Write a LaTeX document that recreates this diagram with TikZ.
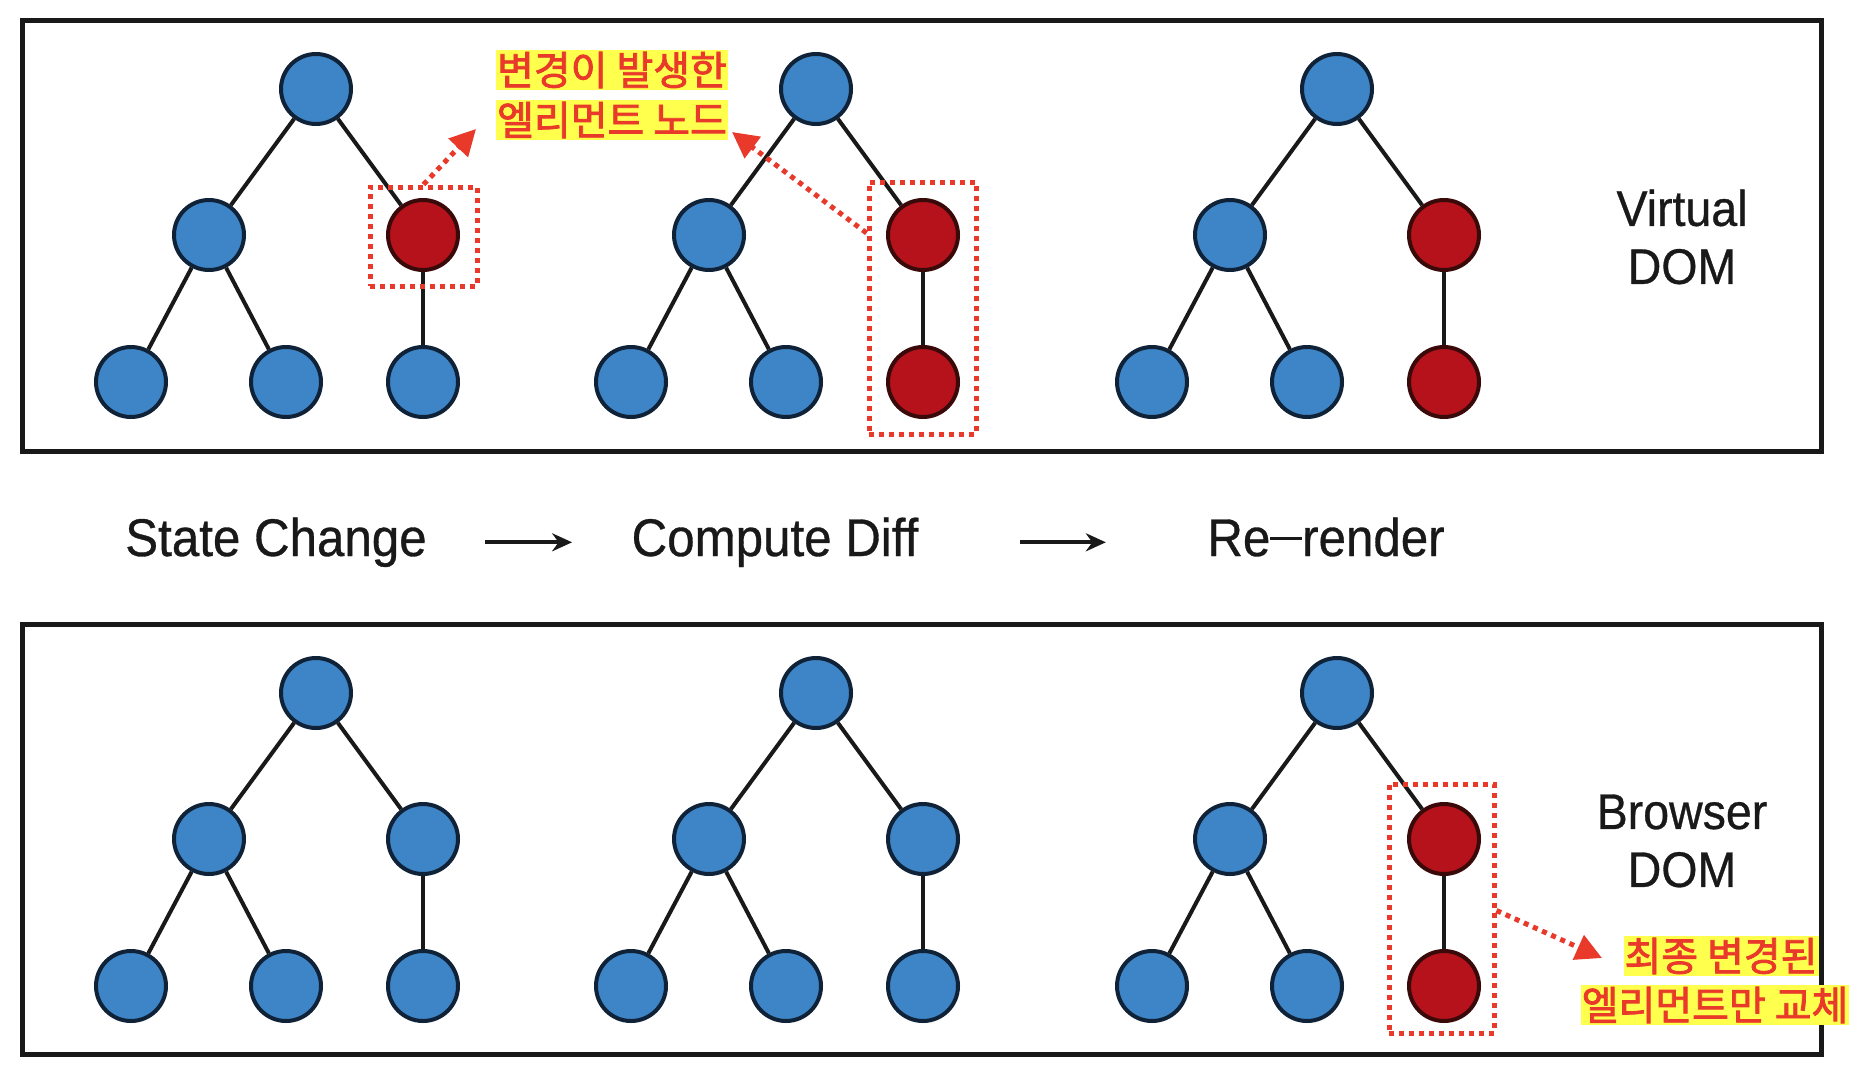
\documentclass[tikz,border=0pt]{standalone}
\usepackage{fontspec}
\setmainfont{Liberation Sans}
\newfontfamily\lab{Liberation Sans}[FakeStretch=0.93,FakeBold=0.6]
\newfontfamily\cjk{Noto Sans CJK KR}[FakeBold=2]
\usetikzlibrary{arrows.meta,calc}
\definecolor{nblue}{HTML}{3D85C6}
\definecolor{nbluedge}{HTML}{0F2238}
\definecolor{nred}{HTML}{B5121B}
\definecolor{nrededge}{HTML}{3A0A0A}
\definecolor{kred}{HTML}{E8392A}
\definecolor{hl}{HTML}{FFFF4D}
\tikzset{
  bn/.style={circle,fill=nblue,draw=nbluedge,line width=4pt,minimum size=70pt,inner sep=0pt},
  rn/.style={circle,fill=nred,draw=nrededge,line width=4pt,minimum size=70pt,inner sep=0pt},
  edge/.style={line width=4pt,draw=black!90},
  panel/.style={draw=black!90,line width=5pt},
  dbox/.style={draw=kred,line width=5pt,dash pattern=on 5pt off 5pt,inner sep=0pt},
  darr/.style={draw=kred,line width=5pt,dash pattern=on 5pt off 5pt,-{Triangle[length=26pt,width=26pt,fill=kred]}},
  klab/.style={fill=hl,text=kred,font=\cjk\fontsize{40}{42}\selectfont,inner xsep=1pt,inner ysep=2pt},
  steplab/.style={font=\lab\fontsize{53}{60}\selectfont,text=black!90,anchor=base},
  domlab/.style={font=\lab\fontsize{50}{58}\selectfont,text=black!90,align=center},
  farr/.style={line width=4pt,draw=black!90,-{Stealth[length=20pt,width=18pt]}}
}
\newcommand\domtree[5]{%
  \node[bn] (#1r) at (#2,#3) {};
  \node[bn] (#1a) at (#2-107,#3+146) {};
  \node[#4] (#1b) at (#2+107,#3+146) {};
  \node[bn] (#1c) at (#2-185,#3+293) {};
  \node[bn] (#1d) at (#2-30,#3+293) {};
  \node[#5] (#1e) at (#2+107,#3+293) {};
  \draw[edge] (#1r) -- (#1a);
  \draw[edge] (#1r) -- (#1b);
  \draw[edge] (#1a) -- (#1c);
  \draw[edge] (#1a) -- (#1d);
  \draw[edge] (#1b) -- (#1e);
}
\begin{document}
\begin{tikzpicture}[x=1pt,y=-1pt]
\useasboundingbox[fill=white] (0,0) rectangle (1870,1068);
% panels
\draw[panel] (22,20) rectangle (1821,451);
\draw[panel] (22,624) rectangle (1821,1054);
% top trees
\domtree{va}{316}{89}{rn}{bn}
\domtree{vb}{816}{89}{rn}{rn}
\domtree{vc}{1337}{89}{rn}{rn}
% bottom trees
\domtree{ba}{316}{693}{bn}{bn}
\domtree{bb}{816}{693}{bn}{bn}
\domtree{bc}{1337}{693}{rn}{rn}
% panel labels
\node[domlab] (vdom) at (1682,237) {Virtual\\DOM};
\node[domlab] (bdom) at (1682,841) {Browser\\DOM};
% step labels
\node[steplab] (sc) at (276,556) {State Change};
\node[steplab] (cd) at (775,556) {Compute Diff};
\node[steplab] (rr) at (1326,556) {Re{\rule[0.3em]{0.6em}{3.5pt}}render};
\draw[farr] ([xshift=55pt]sc.east) -- ([xshift=-56pt]cd.west);
\draw[farr] ([xshift=98pt]cd.east) -- ([xshift=-98pt]cd.east -| rr.west);
% dashed highlight boxes
\node[dbox,minimum width=107pt,minimum height=99pt] (d1) at (423.5,236.5) {};
\node[dbox,minimum width=107pt,minimum height=252pt] (d2) at (922.5,308) {};
\node[dbox,minimum width=105pt,minimum height=249pt] (d3) at (1441.5,908.5) {};
% korean labels
\node[klab] (k1a) at (612,70) {변경이 발생한};
\node[klab] (k1b) at (612,120) {엘리먼트 노드};
\node[klab] (k2a) at (1721,956) {최종 변경된};
\node[klab] (k2b) at (1715,1005) {엘리먼트만 교체};
\coordinate (t1) at (476,129);
\coordinate (t2) at (732,132);
\coordinate (t3) at (1602,958);
\draw[darr] (d1.north) -- (t1);
\draw[darr] ([yshift=75pt]d2.west) -- (t2);
\draw[darr] ([yshift=-2pt]d3.east) -- (t3);
\end{tikzpicture}
\end{document}
